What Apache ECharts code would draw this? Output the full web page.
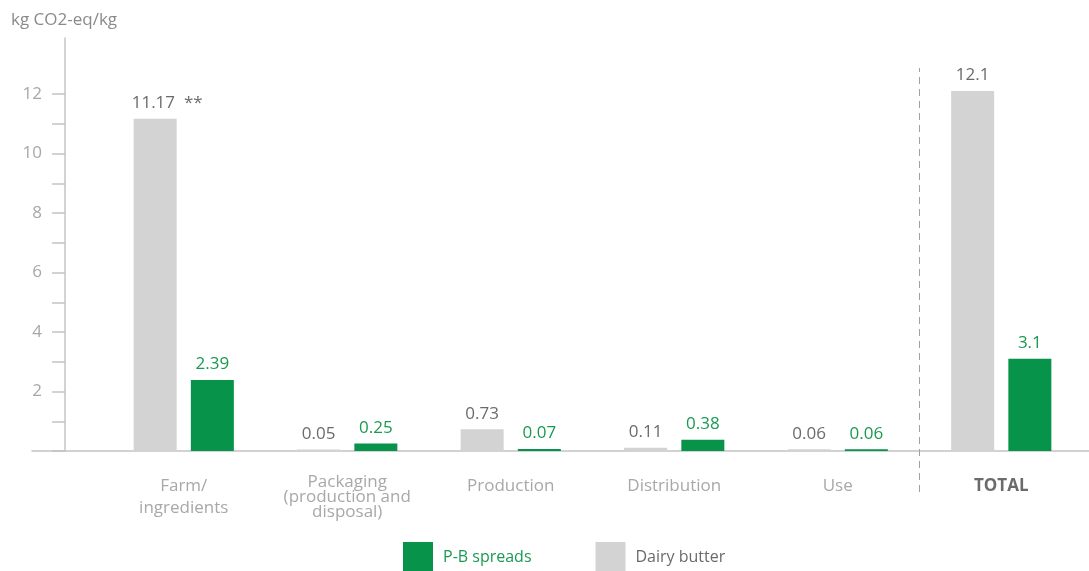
<!DOCTYPE html>
<html><head><meta charset="utf-8">
<script src="https://cdn.jsdelivr.net/npm/echarts@6/dist/echarts.min.js"></script>
<style>html,body{margin:0;padding:0;background:#fff}#c{width:1089px;height:571px}</style>
</head><body><div id="c"></div>
<script>
const categories = ['Farm/\ningredients', 'Packaging\n(production and\ndisposal)', 'Production', 'Distribution', 'Use', 'TOTAL'];
const dairyButter = [11.17, 0.05, 0.73, 0.11, 0.06, 12.1];
const pbSpreads = [2.39, 0.25, 0.07, 0.38, 0.06, 3.1];
const footnotes = ['**', '', '', '', '', ''];
const yLabelValues = [2, 4, 6, 8, 10, 12];
const yAxisTitle = 'kg CO2-eq/kg';
const legendNames = ['P-B spreads', 'Dairy butter'];

const FONT = 'Open Sans';
const GREEN = '#07934a';
const GREEN_TXT = '#1a9a50';
const GRAY = '#d3d3d3';
const AXIS = '#c4c4c4';
const LBL = '#a8a8a8';

const catData = categories.map((c, i) => {
  if (i === 1) return { value: c, textStyle: { lineHeight: 15 } };
  if (i === 5) return { value: c, textStyle: { fontWeight: 'bold', color: '#6b6b6b' } };
  return c;
});

const dairyData = dairyButter.map((v, i) => footnotes[i]
  ? { value: v, label: { formatter: '{c}  ' + footnotes[i], offset: [12, 0] } }
  : v);

const chart = echarts.init(document.getElementById('c'), null, { renderer: 'canvas' });
chart.setOption({
  animation: false,
  textStyle: { fontFamily: FONT },
  title: { text: yAxisTitle, left: 6, top: 7, textStyle: { fontFamily: FONT, fontSize: 17, fontWeight: 'normal', color: '#8a8a8a' } },
  legend: {
    data: [
      { name: legendNames[0], textStyle: { color: GREEN_TXT } },
      { name: legendNames[1], textStyle: { color: '#6b6b6b' } }
    ],
    left: 398, top: 537, icon: 'rect', itemWidth: 30, itemHeight: 30, itemGap: 64,
    selectedMode: false,
    textStyle: { fontFamily: FONT, fontSize: 16, padding: [0, 0, 0, 5] }
  },
  grid: [
    { left: 102, right: 6, top: 94, bottom: 120 },   // bars
    { left: 102, right: 6, top: 38, bottom: 120 },   // y axis line
    { left: 32, right: 0, top: 38, bottom: 120 },    // x axis line
    { left: 102, right: 6, top: 68, bottom: 79 }     // dashed separator
  ],
  xAxis: [
    { gridIndex: 0, type: 'category', data: catData, axisLine: { show: false }, axisTick: { show: false },
      axisLabel: { color: LBL, fontSize: 17, lineHeight: 22, margin: 24, fontFamily: FONT, interval: 0 } },
    { gridIndex: 1, type: 'category', data: categories, show: false },
    { gridIndex: 2, type: 'category', data: categories, axisLine: { show: true, lineStyle: { color: AXIS, width: 1.5 } },
      axisTick: { show: false }, axisLabel: { show: false } },
    { gridIndex: 3, type: 'value', min: 0, max: categories.length, show: false }
  ],
  yAxis: [
    { gridIndex: 0, type: 'value', min: 0, max: 12, interval: 1, offset: 37,
      axisLine: { show: false }, splitLine: { show: false },
      axisTick: { show: true, length: 13, lineStyle: { color: AXIS, width: 1.5 } },
      axisLabel: { margin: 23, color: LBL, fontSize: 17, fontFamily: FONT,
        formatter: v => yLabelValues.indexOf(v) >= 0 ? String(v) : '' } },
    { gridIndex: 1, type: 'value', min: 0, max: 1, offset: 37, axisLine: { show: true, lineStyle: { color: AXIS, width: 1.5 } },
      axisTick: { show: false }, axisLabel: { show: false }, splitLine: { show: false } },
    { gridIndex: 2, type: 'value', show: false },
    { gridIndex: 3, type: 'value', min: 0, max: 1, show: false }
  ],
  series: [
    { name: 'Dairy butter', type: 'bar', xAxisIndex: 0, yAxisIndex: 0, data: dairyData, barWidth: 43, barGap: '33%',
      clip: false, itemStyle: { color: GRAY },
      label: { show: true, position: 'top', distance: 7, color: '#6b6b6b', fontSize: 17, fontFamily: FONT } },
    { name: 'P-B spreads', type: 'bar', xAxisIndex: 0, yAxisIndex: 0, data: pbSpreads, barWidth: 43, barGap: '33%',
      clip: false, itemStyle: { color: GREEN },
      label: { show: true, position: 'top', distance: 7, color: GREEN_TXT, fontSize: 17, fontFamily: FONT } },
    { name: 'sep', type: 'line', xAxisIndex: 3, yAxisIndex: 3, data: [], showSymbol: false, silent: true,
      markLine: { silent: true, symbol: ['none', 'none'], label: { show: false },
        lineStyle: { color: '#a0a0a0', type: [7, 5], width: 1 },
        data: [{ xAxis: categories.length - 1 }] } }
  ]
});
</script>
</body></html>
